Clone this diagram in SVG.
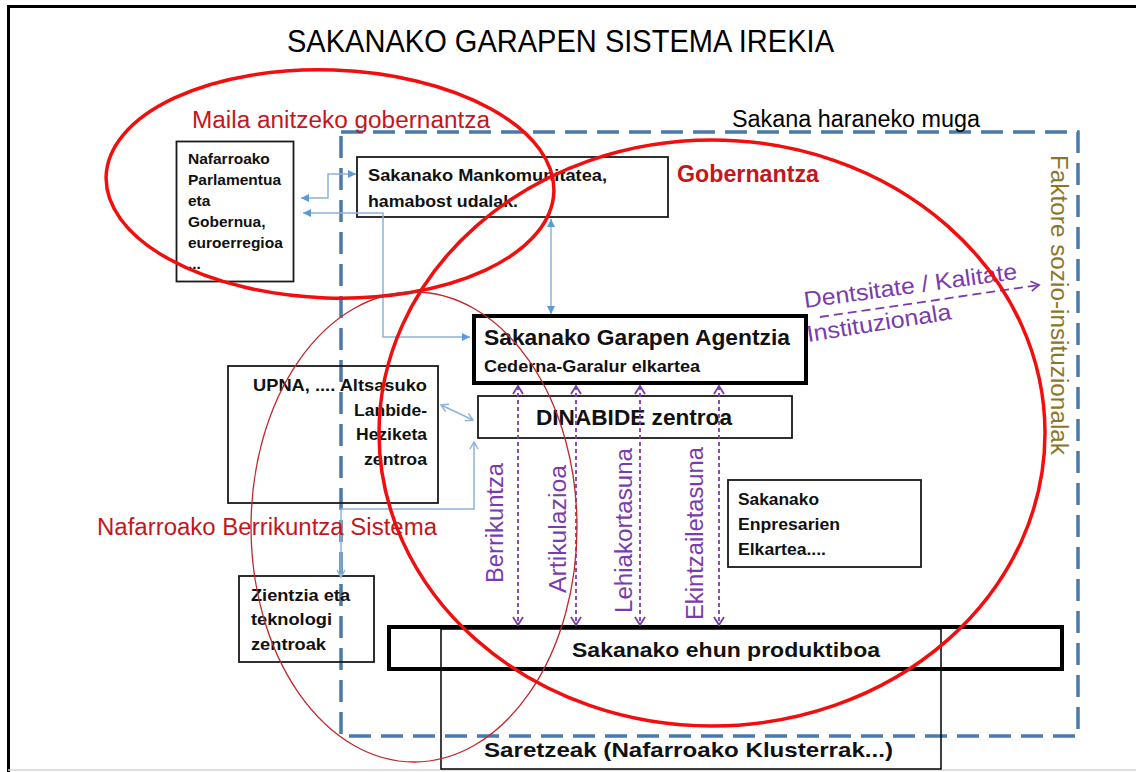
<svg xmlns="http://www.w3.org/2000/svg" width="1136" height="772" viewBox="0 0 1136 772">
<defs>
<style>
.box{fill:none;stroke:#1a1a1a;stroke-width:1.8}
.thick{fill:none;stroke:#000;stroke-width:4}
.bt{font-family:"Liberation Sans",Arial,sans-serif;font-weight:bold;fill:#111}
.lbl{font-family:"Liberation Sans",Arial,sans-serif;font-size:23px}
.red{fill:#c4161c}
.pur{fill:#7a3bb0}
.blue{fill:none;stroke:#8db3dc;stroke-width:1.5}
.pdash{fill:none;stroke:#7a3bb0;stroke-width:1.8;stroke-dasharray:4 3}
.ell{fill:none;stroke:#f30d0d;stroke-width:3.5}
</style>
<marker id="bTri" markerUnits="userSpaceOnUse" markerWidth="9" markerHeight="9" refX="8" refY="4" orient="auto-start-reverse"><path d="M0,0 L8,4 L0,8 z" fill="#5b9bd5"/></marker>
<marker id="bV" markerUnits="userSpaceOnUse" markerWidth="10" markerHeight="10" refX="8" refY="5" orient="auto-start-reverse"><path d="M1,1 L8,5 L1,9" fill="none" stroke="#8db3dc" stroke-width="1.5"/></marker>
<marker id="pV" markerUnits="userSpaceOnUse" markerWidth="12" markerHeight="12" refX="9" refY="6" orient="auto-start-reverse"><path d="M1,1 L9,6 L1,11" fill="none" stroke="#7a3bb0" stroke-width="1.8"/></marker>
</defs>
<rect width="1136" height="772" fill="#fff"/>
<path d="M1136,6.5 H8.5 V772" fill="none" stroke="#000" stroke-width="3"/>
<line x1="8" y1="770" x2="1136" y2="770" stroke="#d4d4d4" stroke-width="1.5"/>
<text x="287" y="52" font-family="Liberation Sans,Arial,sans-serif" font-size="32" fill="#000" textLength="547" lengthAdjust="spacingAndGlyphs">SAKANAKO GARAPEN SISTEMA IREKIA</text>

<g id="boundary">
<rect x="341" y="132" width="737" height="604" fill="none" stroke="#4a79aa" stroke-width="3.5" stroke-dasharray="22 10"/>
<text x="732" y="127" class="lbl" fill="#000" textLength="248" lengthAdjust="spacingAndGlyphs" font-size="21">Sakana haraneko muga</text>
<text transform="translate(1051,155) rotate(90)" class="lbl" fill="#8c7626" textLength="300" lengthAdjust="spacingAndGlyphs">Faktore sozio-insituzionalak</text>
</g>

<g id="nafarroako">
<rect class="box" x="176.5" y="141.5" width="117" height="140"/>
<text class="bt" font-size="15.5"><tspan x="188" y="164">Nafarroako</tspan><tspan x="188" y="185">Parlamentua</tspan><tspan x="188" y="206">eta</tspan><tspan x="188" y="227">Gobernua,</tspan><tspan x="188" y="248">euroerregioa</tspan><tspan x="188" y="269">...</tspan></text>
</g>

<g id="mankomunitatea">
<rect class="box" x="357" y="157" width="311" height="60"/>
<text class="bt" font-size="17" x="368" y="181" textLength="239" lengthAdjust="spacingAndGlyphs">Sakanako Mankomunitatea,</text>
<text class="bt" font-size="17" x="368" y="207" textLength="150" lengthAdjust="spacingAndGlyphs">hamabost udalak.</text>
</g>

<g id="agentzia">
<rect class="thick" x="474" y="316" width="332" height="67"/>
<text class="bt" font-size="22" x="484" y="345" textLength="306" lengthAdjust="spacingAndGlyphs">Sakanako Garapen Agentzia</text>
<text class="bt" font-size="16" x="484" y="372" textLength="216" lengthAdjust="spacingAndGlyphs">Cederna-Garalur elkartea</text>
</g>

<g id="dinabide">
<rect class="box" x="478" y="396" width="314" height="42"/>
<text class="bt" font-size="22" x="536" y="425" textLength="196" lengthAdjust="spacingAndGlyphs">DINABIDE zentroa</text>
</g>

<g id="upna">
<rect class="box" x="228" y="366" width="210" height="137"/>
<text class="bt" font-size="16.5" x="253" y="391" textLength="174" lengthAdjust="spacingAndGlyphs">UPNA, ....  Altsasuko</text>
<text class="bt" font-size="16.5" x="354" y="416" textLength="73" lengthAdjust="spacingAndGlyphs">Lanbide-</text>
<text class="bt" font-size="16.5" x="356" y="440" textLength="71" lengthAdjust="spacingAndGlyphs">Heziketa</text>
<text class="bt" font-size="16.5" x="364" y="465" textLength="63" lengthAdjust="spacingAndGlyphs">zentroa</text>
</g>

<g id="enpresarien">
<rect class="box" x="728" y="480" width="193" height="87"/>
<text class="bt" font-size="16.5" x="738" y="505" textLength="81" lengthAdjust="spacingAndGlyphs">Sakanako</text>
<text class="bt" font-size="16.5" x="738" y="530" textLength="102" lengthAdjust="spacingAndGlyphs">Enpresarien</text>
<text class="bt" font-size="16.5" x="738" y="555" textLength="88" lengthAdjust="spacingAndGlyphs">Elkartea....</text>
</g>

<g id="zientzia">
<rect class="box" x="239" y="576" width="135" height="86"/>
<text class="bt" font-size="17" x="251" y="601" textLength="99" lengthAdjust="spacingAndGlyphs">Zientzia eta</text>
<text class="bt" font-size="17" x="251" y="625" textLength="81" lengthAdjust="spacingAndGlyphs">teknologi</text>
<text class="bt" font-size="17" x="251" y="650" textLength="75" lengthAdjust="spacingAndGlyphs">zentroak</text>
</g>

<g id="saretzeak">
<rect x="441" y="629" width="500" height="140" fill="none" stroke="#000" stroke-width="1.5"/>
<text class="bt" font-size="21" x="484" y="757" textLength="409" lengthAdjust="spacingAndGlyphs">Saretzeak (Nafarroako Klusterrak...)</text>
</g>

<g id="ehun">
<rect class="thick" x="389" y="627" width="673" height="42"/>
<text class="bt" font-size="21" x="572" y="657" textLength="308" lengthAdjust="spacingAndGlyphs">Sakanako ehun produktiboa</text>
</g>

<g id="connectors">
<path class="blue" d="M356,174 H328 V198 H301" marker-start="url(#bTri)" marker-end="url(#bTri)"/>
<path class="blue" d="M303,213 H383 V337 H470" marker-start="url(#bTri)" marker-end="url(#bTri)"/>
<path class="blue" d="M551,219 V314" marker-start="url(#bTri)" marker-end="url(#bTri)"/>
<path class="blue" d="M441,405 L473,420" marker-start="url(#bV)" marker-end="url(#bV)"/>
<path class="blue" d="M341,577 V509 H474 V442" marker-start="url(#bV)" marker-end="url(#bV)"/>
<path class="pdash" d="M518,386 V625" marker-start="url(#pV)" marker-end="url(#pV)"/>
<path class="pdash" d="M576,386 V625" marker-start="url(#pV)" marker-end="url(#pV)"/>
<path class="pdash" d="M640,386 V625" marker-start="url(#pV)" marker-end="url(#pV)"/>
<path class="pdash" d="M719,386 V625" marker-start="url(#pV)" marker-end="url(#pV)"/>
<path fill="none" stroke="#7a3bb0" stroke-width="1.8" stroke-dasharray="9 5" d="M820,317 L1039,285" marker-end="url(#pV)"/>
</g>

<g id="flow-labels">
<text transform="translate(503,583) rotate(-90)" class="lbl pur" textLength="120" lengthAdjust="spacingAndGlyphs">Berrikuntza</text>
<text transform="translate(566,593) rotate(-90)" class="lbl pur" textLength="128" lengthAdjust="spacingAndGlyphs">Artikulazioa</text>
<text transform="translate(632,613) rotate(-90)" class="lbl pur" textLength="165" lengthAdjust="spacingAndGlyphs">Lehiakortasuna</text>
<text transform="translate(703,620) rotate(-90)" class="lbl pur" textLength="173" lengthAdjust="spacingAndGlyphs">Ekintzailetasuna</text>
<text transform="translate(805,308) rotate(-7.8)" class="lbl pur" textLength="215" lengthAdjust="spacingAndGlyphs">Dentsitate / Kalitate</text>
<text transform="translate(808,342) rotate(-9)" class="lbl pur" textLength="146" lengthAdjust="spacingAndGlyphs">Instituzionala</text>
</g>

<g id="regions">
<ellipse class="ell" cx="330" cy="184" rx="224" ry="114" transform="rotate(2 330 184)"/>
<ellipse class="ell" cx="712" cy="433" rx="333" ry="293"/>
<ellipse cx="414" cy="527" rx="163" ry="235" fill="none" stroke="#c0282d" stroke-width="1.3"/>
<text x="192" y="128" class="lbl red" textLength="298" lengthAdjust="spacingAndGlyphs">Maila anitzeko gobernantza</text>
<text x="677" y="182" class="lbl red" font-weight="bold" textLength="142" lengthAdjust="spacingAndGlyphs">Gobernantza</text>
<text x="97" y="535" class="lbl red" textLength="340" lengthAdjust="spacingAndGlyphs">Nafarroako Berrikuntza Sistema</text>
</g>
</svg>
